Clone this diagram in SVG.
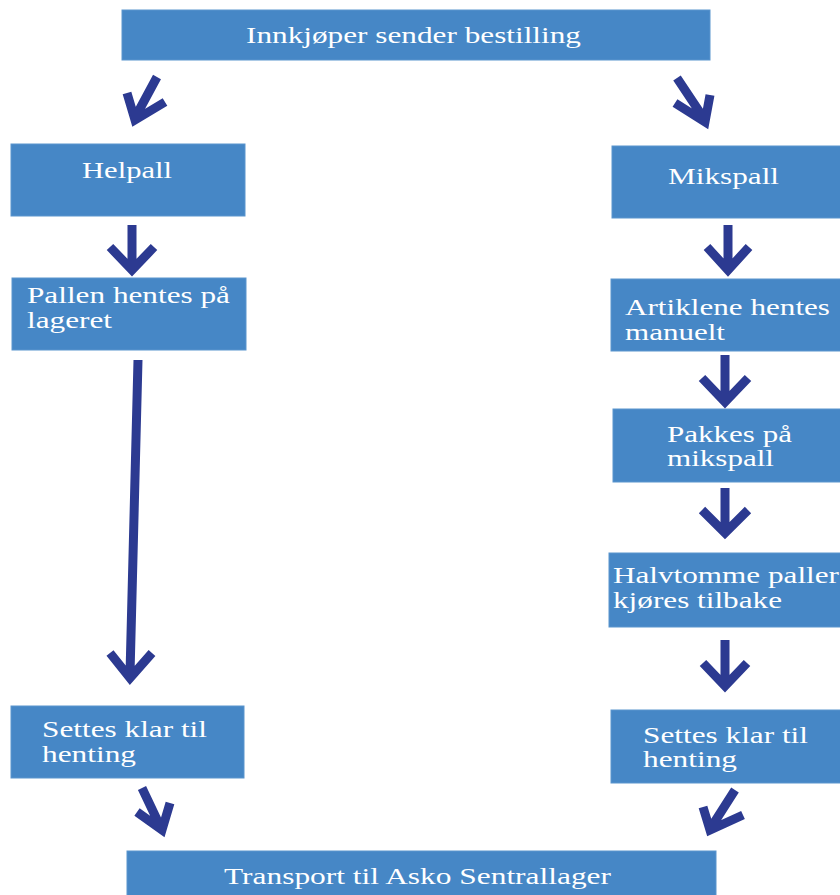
<svg xmlns="http://www.w3.org/2000/svg" width="840" height="895" viewBox="0 0 840 895">
<style>
.box{fill:#4687C6;stroke:#5B95CE;stroke-width:1}
.t{font-family:"Liberation Serif","Times New Roman",serif;font-size:23px;fill:#ffffff}
.arr{fill:none;stroke:#2C3A91;stroke-width:9;stroke-linejoin:miter;stroke-linecap:butt}
</style>
<rect width="840" height="895" fill="#ffffff"/>
<g id="n-top"><rect class="box" x="122" y="10" width="588" height="50"/><text class="t" x="246" y="43" textLength="335" lengthAdjust="spacingAndGlyphs">Innkjøper sender bestilling</text></g>
<g id="n-helpall"><rect class="box" x="11" y="144" width="234" height="72"/><text class="t" x="82" y="178" textLength="90" lengthAdjust="spacingAndGlyphs">Helpall</text></g>
<g id="n-pallen"><rect class="box" x="12" y="278" width="234" height="72"/><text class="t" x="27" y="303" textLength="203" lengthAdjust="spacingAndGlyphs">Pallen hentes på</text><text class="t" x="27" y="328" textLength="85" lengthAdjust="spacingAndGlyphs">lageret</text></g>
<g id="n-settesL"><rect class="box" x="11" y="706" width="233" height="72"/><text class="t" x="42" y="737" textLength="165" lengthAdjust="spacingAndGlyphs">Settes klar til</text><text class="t" x="42" y="762" textLength="94" lengthAdjust="spacingAndGlyphs">henting</text></g>
<g id="n-transport"><rect class="box" x="127" y="851" width="589" height="50"/><text class="t" x="224" y="884" textLength="387" lengthAdjust="spacingAndGlyphs">Transport til Asko Sentrallager</text></g>
<g id="n-mikspall"><rect class="box" x="612" y="146" width="232" height="72"/><text class="t" x="668" y="184" textLength="111" lengthAdjust="spacingAndGlyphs">Mikspall</text></g>
<g id="n-artiklene"><rect class="box" x="611" y="279" width="233" height="72"/><text class="t" x="625" y="315" textLength="205" lengthAdjust="spacingAndGlyphs">Artiklene hentes</text><text class="t" x="625" y="340" textLength="100" lengthAdjust="spacingAndGlyphs">manuelt</text></g>
<g id="n-pakkes"><rect class="box" x="613" y="409" width="231" height="73"/><text class="t" x="667" y="442" textLength="125" lengthAdjust="spacingAndGlyphs">Pakkes på</text><text class="t" x="667" y="466" textLength="107" lengthAdjust="spacingAndGlyphs">mikspall</text></g>
<g id="n-halvtomme"><rect class="box" x="609" y="553" width="235" height="74"/><text class="t" x="613" y="583" textLength="226" lengthAdjust="spacingAndGlyphs">Halvtomme paller</text><text class="t" x="613" y="608" textLength="169" lengthAdjust="spacingAndGlyphs">kjøres tilbake</text></g>
<g id="n-settesR"><rect class="box" x="611" y="710" width="233" height="73"/><text class="t" x="643" y="743" textLength="165" lengthAdjust="spacingAndGlyphs">Settes klar til</text><text class="t" x="643" y="767" textLength="94" lengthAdjust="spacingAndGlyphs">henting</text></g>
<g id="connectors" class="arr">
<path d="M157,77 L136,116 M127,93 L135,120 L165,102"/>
<path d="M677,78 L703,117 M675,103 L705,122 L710,95"/>
<path d="M132,225 V266 M110,247 L132,270 L154,247"/>
<path d="M138,360 L130,674 M110,653 L130,678 L152,653"/>
<path d="M142,788 L160,826 M137,812 L162,830 L170,803"/>
<path d="M735,790 L712,826 M703,807 L710,830 L743,815"/>
<path d="M728,225 V266 M707,247 L728,270 L749,247"/>
<path d="M725,355 V398 M702,378 L725,402 L748,378"/>
<path d="M725,488 V529 M702,510 L725,533 L748,510"/>
<path d="M725,640 V682 M703,663 L725,686 L747,663"/>
</g>
</svg>
